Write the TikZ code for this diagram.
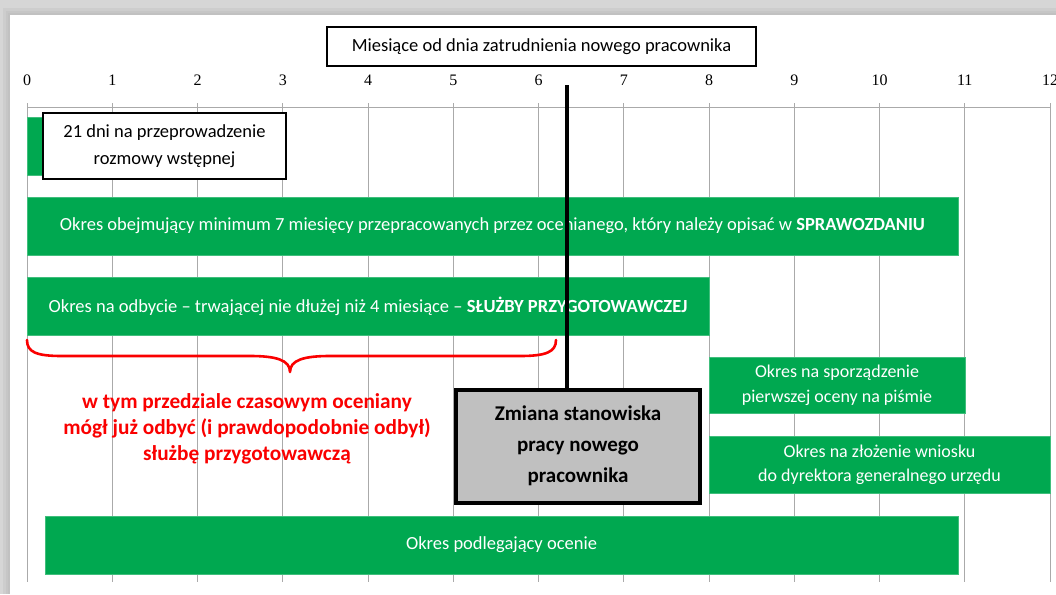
\documentclass[tikz,border=0pt]{standalone}
\usepackage{fontspec}
\setmainfont{Carlito}
\newfontfamily\numfont{Liberation Serif}
\usetikzlibrary{calc}
\definecolor{barGreen}{RGB}{0,168,80}
\definecolor{gridGray}{RGB}{170,170,170}
\definecolor{boxGray}{RGB}{192,192,192}
\definecolor{braceRed}{RGB}{250,0,0}
\definecolor{frameGray}{RGB}{214,214,214}
\definecolor{shadeGray}{RGB}{190,190,190}

\begin{document}
\begin{tikzpicture}[x=1pt,y=-1pt,
  gbar/.style={fill=barGreen, draw=barGreen!75!white, line width=0.6pt,
    text=white, inner sep=0pt, outer sep=0pt, anchor=north west,
    font=\fontsize{18.5}{25}\selectfont, align=center},
  wbox/.style={fill=white, draw=black, line width=1.4pt, inner sep=0pt,
    font=\fontsize{18.5}{27}\selectfont, align=center},
  grid/.style={draw=gridGray, line width=1pt},
  num/.style={font=\numfont\fontsize{16}{18}\selectfont, inner sep=0pt},
  changebox/.style={fill=boxGray, draw=black, line width=4pt, inner sep=0pt,
    font=\bfseries\fontsize{21}{31}\selectfont, align=center},
  redtext/.style={text=braceRed, font=\bfseries\fontsize{21.3}{26}\selectfont,
    align=center, inner sep=0pt},
  brace/.style={draw=braceRed, line width=2.6pt, line cap=round, line join=round},
  marker/.style={draw=black, line width=4pt}
]
\useasboundingbox (0,0) rectangle (1056,594);

% page frame with a soft shadow
\fill[frameGray] (0,0) rectangle (1056,594);
\fill[shadeGray, opacity=0.35] (3,8) rectangle (1056,594);
\fill[shadeGray, opacity=0.45] (6,11) rectangle (1056,594);
\fill[shadeGray, opacity=0.6] (8,13) rectangle (1056,594);
\fill[white] (10,15) rectangle (1056,594);

% month axis with vertical grid lines
\draw[grid] (27,107) -- (1050,107);
\foreach \i in {0,...,12}{
  \draw[grid] ({27+85.25*\i},103) -- ({27+85.25*\i},582);
  \node[num] (n\i) at ({27+85.25*\i},80) {\i};
}

% axis title
\node[wbox, minimum width=429pt, minimum height=39pt] (title) at (541.5,46.5)
  {Miesiące od dnia zatrudnienia nowego pracownika};

% first interview period
\node[gbar, minimum width=18pt, minimum height=58pt] (g0) at (27,117) {};
\node[wbox, minimum width=243pt, minimum height=66pt] (dni) at (164.5,146)
  {21 dni na przeprowadzenie\\rozmowy wstępnej};

% periods
\node[gbar, minimum width=931pt, minimum height=58pt] (rep) at (27,197)
  {Okres obejmujący minimum 7 miesięcy przepracowanych przez ocenianego, który należy opisać w \textbf{SPRAWOZDANIU}};
\node[gbar, minimum width=682pt, minimum height=58pt] (prep) at (27,277)
  {Okres na odbycie – trwającej nie dłużej niż 4 miesiące – \textbf{SŁUŻBY PRZYGOTOWAWCZEJ}};
\node[gbar, minimum width=256pt, minimum height=56pt,
  font=\fontsize{18}{25}\selectfont] (first) at (709,357)
  {Okres na sporządzenie\\pierwszej oceny na piśmie};
\node[gbar, minimum width=341pt, minimum height=57pt,
  font=\fontsize{18}{24}\selectfont] (motion) at (709,436)
  {Okres na złożenie wniosku\\do dyrektora generalnego urzędu};
\node[gbar, minimum width=913pt, minimum height=58pt] (eval) at (45,516)
  {Okres podlegający ocenie};

% brace under the preparatory service period
\coordinate (bl) at (27,340);
\coordinate (br) at (556,340);
\coordinate (tip) at (290,372);
\draw[brace] (bl) .. controls (27,352) and (36,356) .. (62,356)
  -- (250,356) .. controls (276,356) and (290,360) .. (tip)
  .. controls (290,360) and (304,356) .. (330,356)
  -- (520,356) .. controls (546,356) and (556,352) .. (br);

\node[redtext] (note) at (247,429)
  {w tym przedziale czasowym oceniany\\mógł już odbyć (i prawdopodobnie odbył)\\służbę przygotowawczą};

% change of position
\node[changebox, minimum width=244pt, minimum height=113pt] (chg) at (578,446)
  {Zmiana stanowiska\\pracy nowego\\pracownika};
\coordinate (mtop) at (567,85);
\draw[marker] (mtop) -- (mtop |- chg.north);
\end{tikzpicture}
\end{document}
